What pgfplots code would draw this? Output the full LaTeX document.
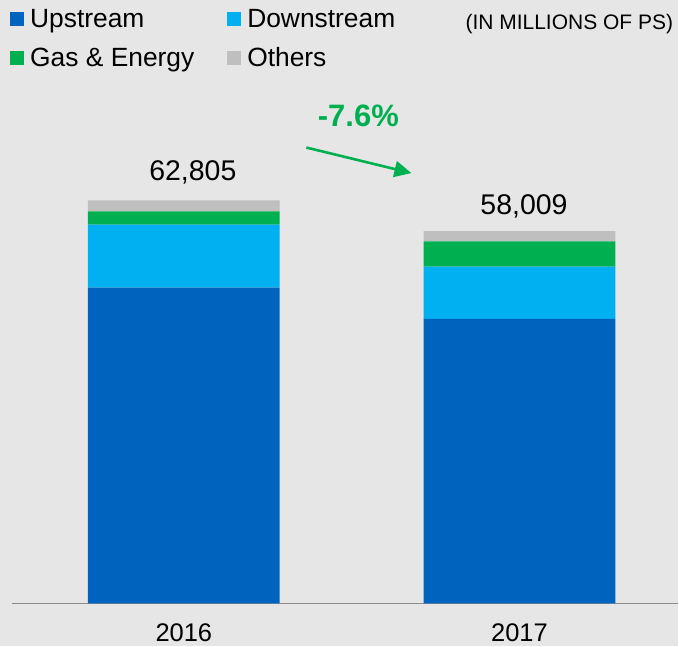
\documentclass[border=0pt]{standalone}
\usepackage{pgfplots}
\pgfplotsset{compat=1.18}
\usepackage{fontspec}
\setmainfont{Liberation Sans}
\usetikzlibrary{arrows.meta,calc}
\definecolor{bg}{HTML}{E6E6E6}
\definecolor{up}{HTML}{0063BE}
\definecolor{down}{HTML}{00B0F0}
\definecolor{gas}{HTML}{00B050}
\definecolor{oth}{HTML}{BFBFBF}
\definecolor{axisgray}{HTML}{8C8C8C}
\begin{document}
\begin{tikzpicture}
\fill[bg] (0,0) rectangle (679pt,647pt);
\begin{axis}[
  at={(12pt,43pt)}, anchor=south west,
  scale only axis, width=667pt, height=604pt,
  xmin=-0.512, xmax=1.473, ymin=0, ymax=94043,
  ybar stacked, bar width=192pt,
  axis x line=bottom, axis y line=none,
  x axis line style={draw=axisgray, line width=1.5pt, -},
  xtick={0,1}, xticklabels={2016,2017},
  major tick length=0pt, xtick style={draw=none},
  xticklabel style={font=\fontsize{25.5}{30}\selectfont, anchor=base, yshift=-38.5pt},
  /pgf/number format/assume math mode=true,
  clip=false,
  legend columns=2,
  legend cell align=left,
  legend style={draw=none, fill=none, inner sep=0pt,
    at={(axis description cs:-0.003,0.988)}, anchor=north west,
    font=\fontsize{26.4}{31}\selectfont,
    nodes={inner sep=2pt},
    row sep=14.5pt,
    /tikz/every odd column/.append style={column sep=4pt},
    /tikz/every even column/.append style={column sep=31pt}},
  legend image code/.code={\fill[#1] (0pt,-7pt) rectangle (14pt,7pt);},
]
\addplot[fill=up, draw=none] coordinates {(0,49201) (1,44328)};
\addlegendentry{Upstream}
\addplot[fill=down, draw=none] coordinates {(0,9809) (1,8143)};
\addlegendentry{Downstream}
\addplot[fill=gas, draw=none] coordinates {(0,2071) (1,3939)};
\addlegendentry{Gas \& Energy}
\addplot[fill=oth, draw=none] coordinates {(0,1724) (1,1599)};
\addlegendentry{Others}

\node[anchor=base, font=\fontsize{28.5}{34}\selectfont] at ($(axis cs:0,62805)+(9pt,20pt)$) {62,805};
\node[anchor=base, font=\fontsize{28.5}{34}\selectfont] at ($(axis cs:1,58009)+(4.5pt,17pt)$) {58,009};
\node[anchor=base, font=\bfseries\fontsize{31}{37}\selectfont, text=gas] at (axis cs:0.52,74316) {-7.6\%};
\draw[gas, line width=2.6pt, -{Triangle[length=17pt,width=16pt]}] (axis cs:0.365,71046) -- (axis cs:0.678,67060);
\node[anchor=base east, font=\fontsize{21}{25}\selectfont, inner sep=0pt] at (axis cs:1.458,89372) {(IN MILLIONS OF PS)};
\end{axis}
\end{tikzpicture}
\end{document}
